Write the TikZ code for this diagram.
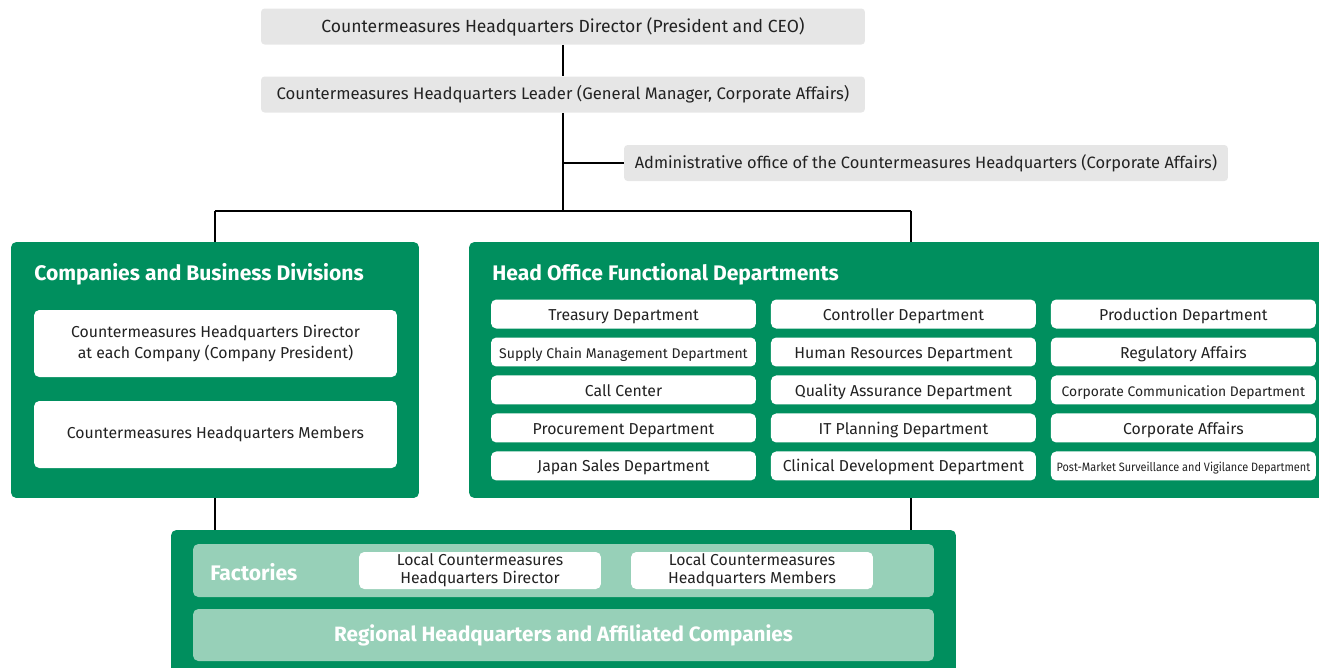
\documentclass[tikz,border=0pt]{standalone}
\usepackage{fontspec}
\setmainfont{Fira Sans}
\usetikzlibrary{positioning}
\definecolor{hqgreen}{HTML}{008F5E}
\definecolor{hqlight}{HTML}{97D0B8}
\definecolor{hqgray}{HTML}{E6E6E6}
\definecolor{hqtext}{HTML}{222222}
\tikzstyle{line} = [draw=black, line width=0.6pt]
\tikzstyle{graybox} = [rectangle, fill=hqgray, rounded corners=2pt, text=hqtext,
minimum width=12.08cm, minimum height=0.72cm, font=\fontsize{9.5}{11}\selectfont]
\tikzstyle{frame} = [rectangle, fill=hqgreen, rounded corners=3pt, inner sep=0pt]
\tikzstyle{band} = [rectangle, fill=hqlight, rounded corners=3pt, inner sep=0pt,
minimum width=14.82cm]
\tikzstyle{title} = [anchor=west, inner sep=0pt, text=white, font=\bfseries\fontsize{12}{14}\selectfont]
\tikzstyle{member} = [rectangle, fill=white, rounded corners=3pt, text=hqtext,
align=center, minimum width=7.26cm, minimum height=1.34cm, font=\fontsize{9}{12.4}\selectfont]
\tikzstyle{dept} = [rectangle, fill=white, rounded corners=3pt, text=hqtext, inner sep=1pt,
outer sep=0pt, text height=1.6ex, text depth=0.3ex,
minimum width=5.3cm, minimum height=0.58cm, font=\fontsize{9}{10}\selectfont]
\tikzstyle{local} = [rectangle, fill=white, rounded corners=3pt, text=hqtext, align=center,
inner sep=1pt, minimum width=4.84cm, minimum height=0.74cm, font=\fontsize{9}{10.4}\selectfont]

\begin{document}
\begin{tikzpicture}[x=0.02cm, y=-0.02cm, node distance=0.18cm and 0.3cm]
\useasboundingbox (0,0) rectangle (1319,667);

% Headquarters chain
\node (director) [graybox, font=\fontsize{10}{11}\selectfont] at (563,26.5) {Countermeasures Headquarters Director (President and CEO)};
\node (leader) [graybox] at (563,94.5) {Countermeasures Headquarters Leader (General Manager, Corporate Affairs)};
\node (admin) [graybox, font=\fontsize{9.35}{11}\selectfont] at (926,163) {Administrative office of the Countermeasures Headquarters (Corporate Affairs)};

% Green frames
\node (companies) [frame, minimum width=8.16cm, minimum height=5.12cm] at (215,370) {};
\node (headoffice) [frame, minimum width=17.4cm, minimum height=5.12cm] at (904,370) {};
\node (regional) [frame, minimum width=15.7cm, minimum height=3cm] at (563.5,605) {};

\node (companiestitle) [title] at (34,274) {Companies and Business Divisions};
\node (headofficetitle) [title] at (492,274) {Head Office Functional Departments};

% Companies and Business Divisions
\node (codirector) [member] at (215.5,343.5) {Countermeasures Headquarters Director\\at each Company (Company President)};
\node (comembers) [member] at (215.5,434.5) {Countermeasures Headquarters Members};

% Head office departments
\node (treasury) [dept] at (623.5,314) {Treasury Department};
\node (supply) [dept, below=of treasury, font=\fontsize{8}{10}\selectfont] {Supply Chain Management Department};
\node (callcenter) [dept, below=of supply] {Call Center};
\node (procurement) [dept, below=of callcenter] {Procurement Department};
\node (japansales) [dept, below=of procurement] {Japan Sales Department};

\node (controller) [dept, right=of treasury] {Controller Department};
\node (humanres) [dept, below=of controller] {Human Resources Department};
\node (quality) [dept, below=of humanres] {Quality Assurance Department};
\node (itplanning) [dept, below=of quality] {IT Planning Department};
\node (clinical) [dept, below=of itplanning] {Clinical Development Department};

\node (production) [dept, right=of controller] {Production Department};
\node (regulatory) [dept, below=of production] {Regulatory Affairs};
\node (corpcomm) [dept, below=of regulatory, font=\fontsize{7.9}{10}\selectfont] {Corporate Communication Department};
\node (corpaffairs) [dept, below=of corpcomm] {Corporate Affairs};
\node (postmarket) [dept, below=of corpaffairs, font=\fontsize{6.9}{10}\selectfont] {\scalebox{0.9}[1]{Post-Market Surveillance and Vigilance Department}};

% Factories and regional headquarters
\node (factories) [band, minimum height=1.06cm] at (563.5,570.5) {};
\node (factoriestitle) [title] at (210,572) {Factories};
\node (localdirector) [local] at (480,570.5) {Local Countermeasures\\Headquarters Director};
\node (localmembers) [local] at (752,570.5) {Local Countermeasures\\Headquarters Members};
\node (affiliates) [band, minimum height=1.04cm, text=white, font=\bfseries\fontsize{11.8}{14}\selectfont] at (563.5,635) {Regional Headquarters and Affiliated Companies};

% Draw lines
\coordinate (split) at (563,211);
\coordinate (leftdrop) at (215,211);
\coordinate (rightdrop) at (911,211);
\draw [line] (director) -- (leader);
\draw [line] (leader) -- (split);
\draw [line] (admin.west) -- (admin.west -| leader);
\draw [line] (leftdrop) -- (rightdrop);
\draw [line] (leftdrop) -- (leftdrop |- companies.north);
\draw [line] (rightdrop) -- (rightdrop |- headoffice.north);
\draw [line] (companies.south) -- (companies.south |- regional.north);
\draw [line] (rightdrop |- headoffice.south) -- (rightdrop |- regional.north);

\end{tikzpicture}
\end{document}
